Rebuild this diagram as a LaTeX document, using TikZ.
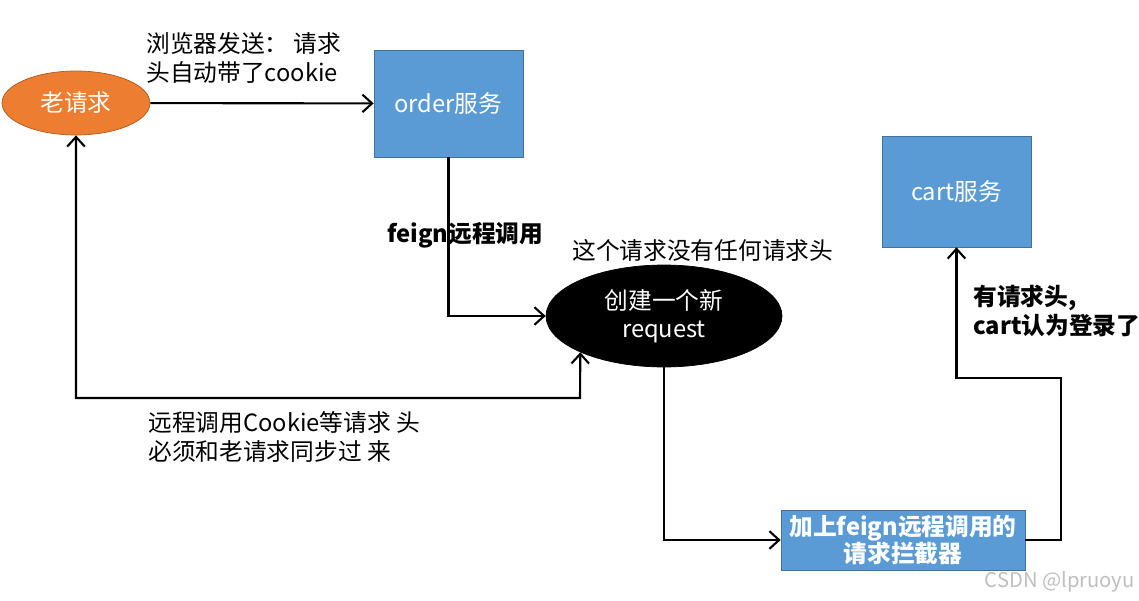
\documentclass[tikz,border=0pt]{standalone}
\usepackage{fontspec}
\setmainfont{Noto Sans CJK SC}
\usepackage{xcolor}
\usetikzlibrary{shapes, arrows.meta, calc, positioning}
\definecolor{reqorange}{HTML}{ED7D31}
\definecolor{reqorangeline}{HTML}{AE5A21}
\definecolor{svcblue}{HTML}{5B9BD5}
\definecolor{svcblueline}{HTML}{41719C}

\begin{document}
\begin{tikzpicture}[x=0.02cm, y=-0.02cm, font=\fontsize{13.5}{16}\selectfont]%{{{
        \useasboundingbox (0, 0) rectangle (1139, 601);

        \tikzstyle{old} = [draw=reqorangeline, fill=reqorange, ellipse, text=white,
            minimum width=2.96cm, minimum height=1.28cm, inner sep=0pt];
        \tikzstyle{svc} = [draw=svcblueline, fill=svcblue, text=white,
            minimum width=2.98cm, inner sep=0pt];
        \tikzstyle{fresh} = [draw, fill=black, ellipse, text=white, align=center,
            minimum width=4.72cm, minimum height=2.04cm, inner sep=0pt];
        \tikzstyle{a} = [line width=1.2pt, -{Straight Barb[length=5.5pt, width=10pt]}];
        \tikzstyle{aa} = [line width=1.2pt, {Straight Barb[length=5.5pt, width=10pt]}-{Straight Barb[length=5.5pt, width=10pt]}];
        \tikzstyle{lbl} = [anchor=west, align=left, inner sep=0pt];

        \node [old] (oldreq) at (76, 103) {老请求};
        \node [svc, minimum height=2.14cm] (order) at (448.5, 103.5) {order服务};
        \node [svc, minimum height=2.22cm] (cart) at (956.5, 191.5) {cart服务};
        \node [fresh] (newreq) at (664, 316) {创建一个新\\request};
        \node [svc, minimum width=4.88cm, minimum height=1.2cm, align=center, font=\fontsize{13.5}{15.5}\selectfont\bfseries]
            (interceptor) at (903, 540) {加上feign远程调用的\\请求拦截器};

        \coordinate (low) at (580, 398);
        \coordinate (turn) at (1061, 378);

        \draw [a] (oldreq) -- (order);
        \draw [a] (order.south) |- (newreq.west);
        \draw [a] (newreq.south) |- (interceptor.west);
        \draw [a] (interceptor.east) -| (turn) -| (cart.south);
        \draw [aa] (oldreq.south) |- (low) -- (newreq.south west);

        \node [lbl] (sendlbl) at (146, 58) {浏览器发送： 请求\\头自动带了cookie};
        \node [lbl, font=\fontsize{13.5}{16}\selectfont\bfseries] (feignlbl) at (387, 235) {feign远程调用};
        \node [lbl] (nohdrlbl) at (572, 250) {这个请求没有任何请求头};
        \node [lbl] (synclbl) at (148, 437) {远程调用Cookie等请求 头\\必须和老请求同步过 来};
        \node [lbl, font=\fontsize{13.5}{16}\selectfont\bfseries] (loginlbl) at (973, 311) {有请求头,\\cart认为登录了};
        \node [anchor=east, inner sep=0pt, text=black!25, font=\fontsize{11.5}{13}\selectfont] (mark) at (1135, 582) {CSDN @lpruoyu};
    \end{tikzpicture}
\end{document}
